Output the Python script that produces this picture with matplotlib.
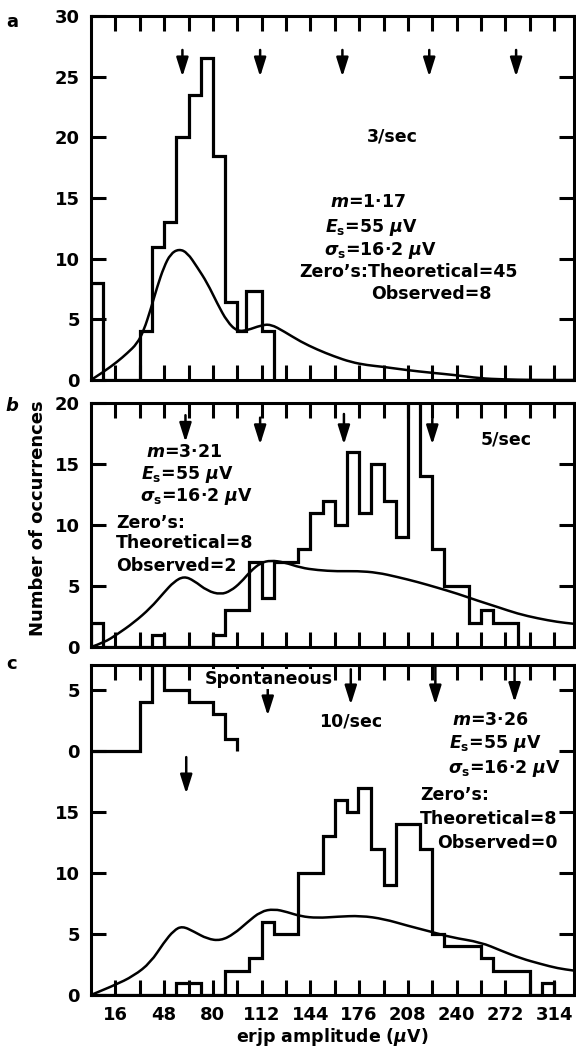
import matplotlib
matplotlib.use("Agg")
import matplotlib.pyplot as plt
from matplotlib.path import Path
from matplotlib.patches import PathPatch
import numpy as np

plt.rcParams['font.family'] = ['DejaVu Sans']
plt.rcParams['font.weight'] = 'bold'
plt.rcParams['mathtext.fontset'] = 'custom'
plt.rcParams['mathtext.rm'] = 'DejaVu Sans:bold'
plt.rcParams['mathtext.it'] = 'DejaVu Sans:bold:italic'
plt.rcParams['mathtext.bf'] = 'DejaVu Sans:bold'

# ---------------- data ----------------
# panel a (3/sec)
a_edges = [0, 8, 16, 24, 32, 40, 48, 56, 64, 72, 80, 88, 96, 102, 112, 120]
a_counts = [8, 0, 0, 0, 4, 11, 13, 20, 23.5, 26.5, 18.5, 6.4, 4, 7.3, 4]
a_curve_x = [0, 8.4, 17.2, 23.7, 30.3, 34.7, 39.1, 43.5, 47.8, 52.2, 57.7, 63.2, 69.7,
             76.3, 82.9, 89.4, 96, 102.6, 111.4, 117.9, 126.7, 137.6, 148.6, 159.5,
             170.5, 181.4, 190.9, 207, 223, 239, 254.8, 270.6, 289.8, 317]
a_curve_y = [0, 0.68, 1.5, 2.2, 3.0, 4.1, 5.8, 7.7, 9.3, 10.4, 10.8, 10.5, 9.3,
             8.0, 6.3, 4.8, 4.0, 4.1, 4.5, 4.6, 4.0, 3.16, 2.5, 1.95,
             1.48, 1.22, 1.1, 0.82, 0.6, 0.41, 0.14, 0.05, 0.0, 0.0]
a_arrow_x = [60, 111, 165, 222, 279]
a_arrow_top = [27.2, 27.2, 27.2, 27.2, 27.2]
a_arrow_tip = [25.0, 25.0, 25.0, 25.0, 25.0]

# panel b (5/sec)
b_edges = [0, 8, 16, 24, 32, 40, 48, 56, 64, 72, 80, 88, 96, 104, 112, 120, 128, 136,
           144, 152, 160, 168, 176, 184, 192, 200, 208, 216, 224, 232, 240, 248, 256,
           264, 272, 280, 288]
b_counts = [2, 0, 0, 0, 0, 1, 0, 0, 0, 0, 1, 3, 3, 7, 4, 7, 7, 8, 11, 12, 10, 16, 11,
            15, 12, 9, 22, 14, 8, 5, 5, 2, 3, 2, 2, 0]
b_curve_x = [0, 8.4, 17.2, 28.1, 39.1, 47.8, 54.4, 61, 67.5, 76.3, 85.1, 91.7, 98.2,
             104.8, 111.4, 117.9, 126.7, 137.6, 148.6, 161.7, 174.8, 188, 201.1, 214.3,
             227.4, 240.5, 253.7, 266.8, 280, 293.1, 306.2, 317]
b_curve_y = [0, 0.35, 1.04, 2.0, 3.2, 4.45, 5.35, 5.8, 5.45, 4.6, 4.3, 4.6, 5.27,
             6.23, 6.9, 7.1, 6.95, 6.5, 6.3, 6.2, 6.23, 6.1, 5.74, 5.33,
             4.86, 4.37, 3.8, 3.28, 2.73, 2.35, 2.05, 1.9]
b_arrow_x = [62, 111, 166, 224]
b_arrow_top = [19.0, 18.8, 19.1, 18.7]
b_arrow_tip = [16.8, 16.6, 16.6, 16.6]

# panel c (10/sec) and spontaneous inset
c_edges = [0, 8, 16, 24, 32, 40, 48, 56, 64, 72, 80, 88, 96, 104, 112, 120, 128, 136,
           144, 152, 160, 168, 175, 184, 192, 200, 208, 216, 224, 232, 240, 248, 256,
           264, 272, 280, 288, 296, 304]
c_counts = [0, 0, 0, 0, 0, 0, 0, 1, 1, 0, 0, 2, 2, 3, 6, 5, 5, 10, 10, 13, 16, 15, 17,
            12, 9, 14, 14, 12, 5, 4, 4, 4, 3, 2, 2, 2, 0, 1]
c_curve_x = [0, 15, 28.1, 39.1, 47.8, 54.4, 59.9, 67.5, 76.3, 85.1, 93.8, 102.6, 111.4,
             120.1, 128.8, 137.6, 148.6, 161.7, 177.1, 192.4, 207.7, 223.1, 236.2,
             255.9, 269, 282.2, 295.3, 306.2, 317]
c_curve_y = [0, 0.77, 1.57, 2.66, 4.3, 5.3, 5.65, 5.2, 4.6, 4.45, 5.0, 5.96, 6.85,
             7.05, 6.8, 6.45, 6.31, 6.42, 6.5, 6.23, 5.68, 5.19, 4.73,
             4.32, 3.64, 3.0, 2.54, 2.19, 2.0]
spont_edges = [0, 8, 16, 24, 32, 40, 48, 56, 64, 72, 80, 88, 96]
spont_counts = [0, 0, 0, 0, 4, 9, 5, 5, 4, 4, 3, 1]
spont_base = 20
c_arrow_x = [116, 170.5, 226, 278, 62.5]
c_arrow_top = [25.1, 26.7, 27.0, 27.0, 19.5]
c_arrow_tip = [22.9, 23.8, 23.8, 24.0, 16.5]

x_major = [16, 48, 80, 112, 144, 176, 208, 240, 272, 304]
x_major_labels = ['16', '48', '80', '112', '144', '176', '208', '240', '272', '314']
x_minor = [32, 64, 96, 128, 160, 192, 224, 256, 288]

a_yticks = [0, 5, 10, 15, 20, 25, 30]
b_yticks = [0, 5, 10, 15, 20]
c_yticks = [0, 5, 10, 15, 20, 25]
c_ylabels = ['0', '5', '10', '15', '0', '5']

# ---------------- figure ----------------
W, H = 576, 1052
fig = plt.figure(figsize=(W / 100, H / 100), dpi=100)

def px_axes(left, top, right, bottom):
    return fig.add_axes([left / W, 1 - bottom / H, (right - left) / W, (bottom - top) / H])

ax_a = px_axes(91, 16, 574, 380)
ax_b = px_axes(91, 403, 574, 647)
ax_c = px_axes(91, 665, 574, 995)

LW = 2.3
FS = 12.5

def style(ax, ylim, yticks, ylabels=None, show_x=False):
    ax.set_xlim(0, 317)
    ax.set_ylim(*ylim)
    for s in ax.spines.values():
        s.set_linewidth(2.2)
    ax.set_xticks(x_major)
    ax.set_xticks(x_minor, minor=True)
    ax.set_yticks(yticks)
    if ylabels is not None:
        ax.set_yticklabels(ylabels)
    ax.tick_params(which='both', direction='in', length=11, width=2.2,
                   top=True, right=True, labelsize=13, pad=8)
    if show_x:
        ax.set_xticklabels(x_major_labels)
        ax.tick_params(axis='x', pad=8)
    else:
        ax.tick_params(axis='x', labelbottom=False)
    for lab in ax.get_yticklabels() + ax.get_xticklabels():
        lab.set_fontweight('bold')

def smooth_curve(ax, xs, ys):
    # quadratic B-spline through the read points (points act as control points)
    verts = [(xs[0], ys[0])]
    codes = [Path.MOVETO]
    for i in range(1, len(xs) - 1):
        mx = (xs[i] + xs[i + 1]) / 2
        my = (ys[i] + ys[i + 1]) / 2
        verts += [(xs[i], ys[i]), (mx, my)]
        codes += [Path.CURVE3, Path.CURVE3]
    verts.append((xs[-1], ys[-1]))
    codes.append(Path.LINETO)
    ax.add_patch(PathPatch(Path(verts, codes), fill=False, edgecolor='k', lw=1.8,
                           capstyle='round', joinstyle='round'))

def arrows(ax, xs, tops, tips):
    for x, t0, t1 in zip(xs, tops, tips):
        ax.annotate('', xy=(x, t1), xytext=(x, t0),
                    arrowprops=dict(arrowstyle='-|>,head_length=0.95,head_width=0.3',
                                    color='k', lw=1.8, shrinkA=0, shrinkB=0,
                                    mutation_scale=12))

# panel a
ax = ax_a
ax.stairs(a_counts, a_edges, color='k', lw=LW, baseline=0)
smooth_curve(ax, a_curve_x, a_curve_y)
arrows(ax, a_arrow_x, a_arrow_top, a_arrow_tip)
style(ax, (0, 30), a_yticks)
ax.text(198, 20.1, '3/sec', ha='center', va='center', fontsize=FS)
ax.text(182, 14.7, r'$m$=1·17', ha='center', va='center', fontsize=FS)
ax.text(184, 12.6, r'$E_{\rm s}$=55 $\mu$V', ha='center', va='center', fontsize=FS)
ax.text(190, 10.7, r'$\sigma_{\rm s}$=16·2 $\mu$V', ha='center', va='center', fontsize=FS)
ax.text(208.5, 8.9, 'Zero’s:Theoretical=45', ha='center', va='center', fontsize=FS)
ax.text(223.7, 7.1, 'Observed=8', ha='center', va='center', fontsize=FS)

# panel b
ax = ax_b
ax.stairs(b_counts, b_edges, color='k', lw=LW, baseline=0)
smooth_curve(ax, b_curve_x, b_curve_y)
arrows(ax, b_arrow_x, b_arrow_top, b_arrow_tip)
style(ax, (0, 20), b_yticks)
ax.text(272.3, 17.0, '5/sec', ha='center', va='center', fontsize=FS)
ax.text(61, 16.0, r'$m$=3·21', ha='center', va='center', fontsize=FS)
ax.text(63.4, 14.1, r'$E_{\rm s}$=55 $\mu$V', ha='center', va='center', fontsize=FS)
ax.text(69.4, 12.3, r'$\sigma_{\rm s}$=16·2 $\mu$V', ha='center', va='center', fontsize=FS)
ax.text(16.6, 10.2, 'Zero’s:', ha='left', va='center', fontsize=FS)
ax.text(16.6, 8.5, 'Theoretical=8', ha='left', va='center', fontsize=FS)
ax.text(16.6, 6.6, 'Observed=2', ha='left', va='center', fontsize=FS)

# panel c
ax = ax_c
ax.stairs(c_counts, c_edges, color='k', lw=LW, baseline=0)
ax.stairs(np.array(spont_counts) + spont_base, spont_edges, color='k', lw=LW,
          baseline=spont_base)
smooth_curve(ax, c_curve_x, c_curve_y)
arrows(ax, c_arrow_x, c_arrow_top, c_arrow_tip)
style(ax, (0, 27.05), c_yticks, c_ylabels, show_x=True)
ax.text(116.9, 25.9, 'Spontaneous', ha='center', va='center', fontsize=FS,
        bbox=dict(facecolor='white', edgecolor='none', pad=0.5))
ax.text(170.4, 22.4, '10/sec', ha='center', va='center', fontsize=FS)
ax.text(262.3, 22.55, r'$m$=3·26', ha='center', va='center', fontsize=FS)
ax.text(265.4, 20.6, r'$E_{\rm s}$=55 $\mu$V', ha='center', va='center', fontsize=FS)
ax.text(271.3, 18.55, r'$\sigma_{\rm s}$=16·2 $\mu$V', ha='center', va='center', fontsize=FS)
ax.text(216.4, 16.4, 'Zero’s:', ha='left', va='center', fontsize=FS)
ax.text(306, 14.4, 'Theoretical=8', ha='right', va='center', fontsize=FS)
ax.text(306, 12.5, 'Observed=0', ha='right', va='center', fontsize=FS)
ax.set_xlabel(r'erjp amplitude ($\mu$V)', fontsize=12.5, fontweight='bold', labelpad=1)

fig.text(38 / W, 1 - 518 / H, 'Number of occurrences', rotation=90, ha='center',
         va='center', fontsize=13, fontweight='bold')
fig.text(12 / W, 1 - 22 / H, 'a', ha='center', va='center', fontsize=13, fontweight='bold')
fig.text(12 / W, 1 - 406 / H, 'b', ha='center', va='center', fontsize=13,
         fontweight='bold', style='italic')
fig.text(12 / W, 1 - 664 / H, 'c', ha='center', va='center', fontsize=13, fontweight='bold')

fig.savefig('out.png', dpi=100)
